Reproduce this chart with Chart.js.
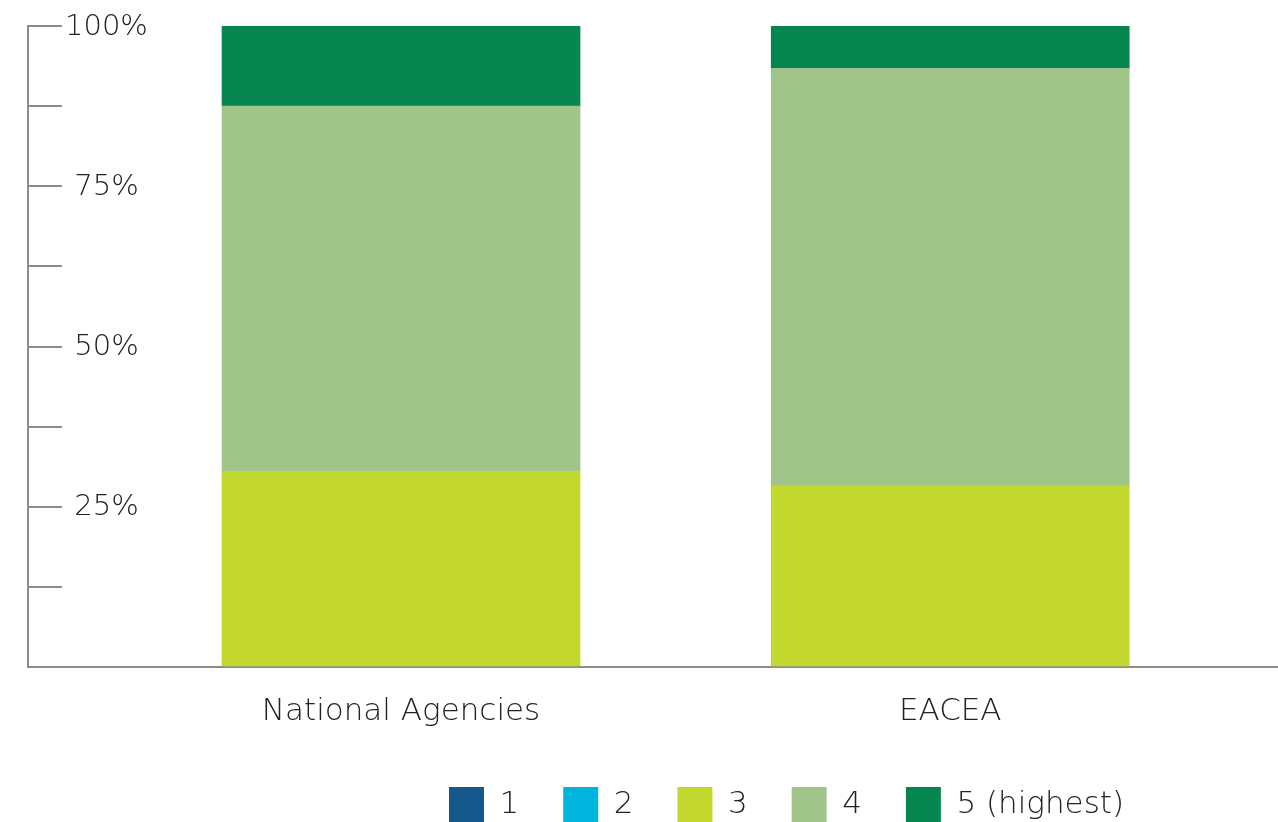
<!DOCTYPE html>
<html>
<head>
<meta charset="utf-8">
<script src="https://cdn.jsdelivr.net/npm/chart.js@4.4.1/dist/chart.umd.min.js"></script>
<style>
  html, body { margin: 0; padding: 0; background: #ffffff; overflow: hidden; }
  #wrap { width: 1278px; height: 832px; }
</style>
</head>
<body>
<div id="wrap"><canvas id="c" width="1278" height="832"></canvas></div>
<script>
// ---- data ----
const categories = ['National Agencies', 'EACEA'];
const seriesLabels = ['1', '2', '3', '4', '5 (highest)'];
const score1 = [0, 0];
const score2 = [0, 0];
const score3 = [30.5, 28.3];
const score4 = [57.0, 65.1];
const score5 = [12.5, 6.6];
const yTickValues = [0, 12.5, 25, 37.5, 50, 62.5, 75, 87.5, 100];
const yTickLabels = ['', '', '25%', '', '50%', '', '75%', '', '100%'];

// ---- styles ----
const seriesColors = ['#14588C', '#00B5DD', '#C2D82F', '#A1C48B', '#058651'];
const axisGray = '#8C8C8C';
const textColor = '#222222';
const FONT = "'DejaVu Sans', sans-serif";

const seriesValues = [score1, score2, score3, score4, score5];
const datasets = seriesLabels.map((name, s) => ({
  label: name,
  // zero shares are left out so no hairline bar is drawn for them
  data: categories.map((c, i) => ({ x: i, y: seriesValues[s][i] === 0 ? null : seriesValues[s][i] })),
  backgroundColor: seriesColors[s],
  borderWidth: 0,
  barThickness: 358
}));

const legendShift = {
  id: 'legendShift',
  afterLayout(chart) {
    const lg = chart.legend;
    if (!lg) return;
    const w = lg.right - lg.left;
    lg.left = 405;
    lg.right = 405 + w;
  }
};

new Chart(document.getElementById('c'), {
  type: 'bar',
  data: { datasets },
  plugins: [legendShift],
  options: {
    responsive: false,
    animation: false,
    events: [],
    layout: { padding: { left: 28, top: 26, right: 0, bottom: 0 } },
    plugins: {
      tooltip: { enabled: false },
      legend: {
        position: 'bottom',
        align: 'start',
        labels: {
          boxWidth: 35,
          boxHeight: 35,
          padding: 44,
          color: textColor,
          font: { family: FONT, size: 31, weight: '200' }
        }
      }
    },
    scales: {
      x: {
        type: 'linear',
        stacked: true,
        offset: false,
        min: -0.6792,
        max: 1.5968,
        afterBuildTicks: (axis) => { axis.ticks = categories.map((c, i) => ({ value: i })); },
        afterFit: (scale) => { scale.height = 76; scale.paddingLeft = 0; scale.paddingRight = 0; },
        ticks: {
          padding: 26,
          maxRotation: 0,
          autoSkip: false,
          color: textColor,
          font: { family: FONT, size: 31, weight: '200' },
          callback: (v) => categories[v]
        },
        grid: { display: false, drawTicks: false },
        border: { display: true, color: axisGray, width: 2 }
      },
      y: {
        type: 'linear',
        stacked: true,
        position: 'left',
        min: 0,
        max: 100,
        afterBuildTicks: (axis) => { axis.ticks = yTickValues.map(v => ({ value: v })); },
        afterFit: (scale) => { scale.width = 0; scale.paddingTop = 0; scale.paddingBottom = 0; },
        ticks: {
          mirror: true,
          crossAlign: 'center',
          padding: 37,
          labelOffset: 1,
          color: textColor,
          font: { family: FONT, size: 29, weight: '200' },
          callback: (v, i) => yTickLabels[i]
        },
        grid: {
          display: true,
          drawOnChartArea: false,
          drawTicks: true,
          tickLength: -34,
          color: axisGray,
          lineWidth: 2
        },
        border: { display: true, color: axisGray, width: 2 }
      }
    }
  }
});
</script>
</body>
</html>
